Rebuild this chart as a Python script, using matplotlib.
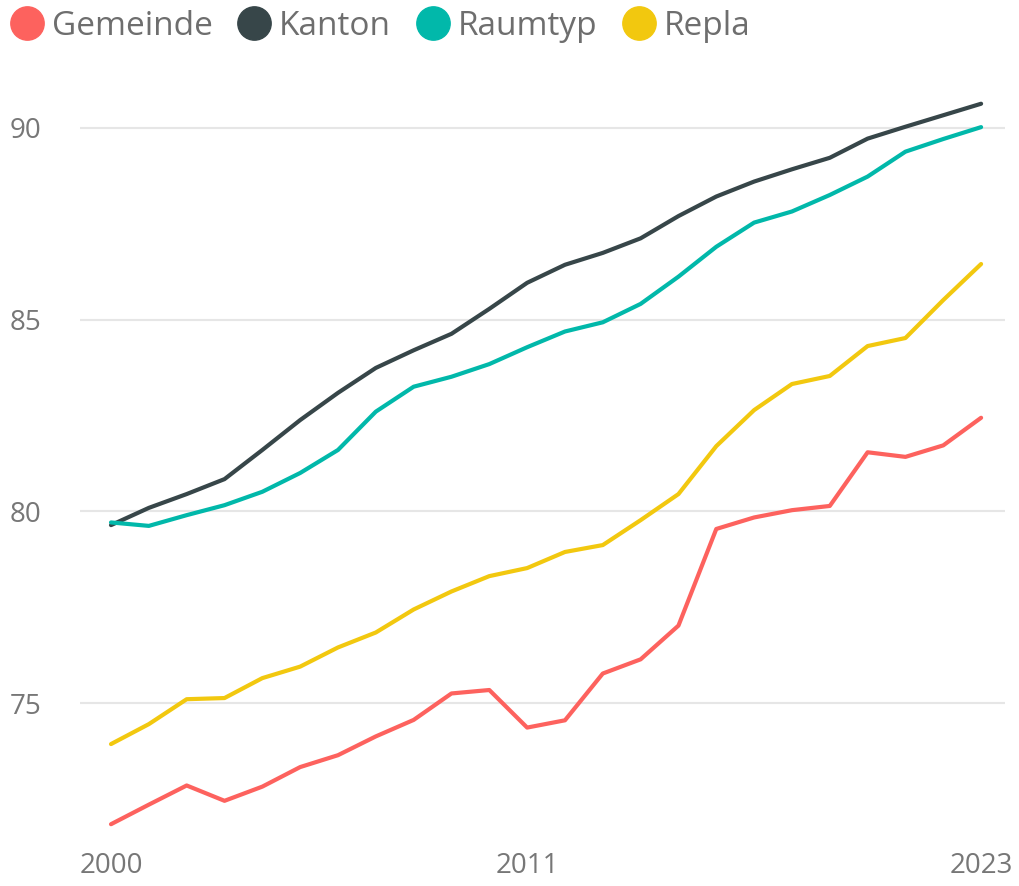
import matplotlib.pyplot as plt
from matplotlib.lines import Line2D
import numpy as np

plt.rcParams['font.family'] = ['Open Sans', 'DejaVu Sans']

jahre = np.arange(2000, 2024)

gemeinde = [71.84, 72.35, 72.85, 72.45, 72.82, 73.33, 73.64, 74.13, 74.56, 75.25,
            75.34, 74.36, 74.55, 75.77, 76.14, 77.02, 79.54, 79.84, 80.03, 80.14,
            81.54, 81.42, 81.72, 82.44]
kanton = [79.64, 80.09, 80.45, 80.84, 81.6, 82.38, 83.09, 83.74, 84.2, 84.63,
          85.28, 85.96, 86.43, 86.74, 87.12, 87.7, 88.21, 88.6, 88.92, 89.22,
          89.72, 90.03, 90.33, 90.63]
raumtyp = [79.71, 79.62, 79.9, 80.16, 80.51, 81.0, 81.6, 82.6, 83.25, 83.51,
           83.84, 84.28, 84.69, 84.93, 85.41, 86.12, 86.9, 87.53, 87.82, 88.25,
           88.73, 89.38, 89.71, 90.02]
repla = [73.93, 74.45, 75.1, 75.13, 75.65, 75.95, 76.45, 76.84, 77.44, 77.91,
         78.31, 78.52, 78.94, 79.12, 79.77, 80.45, 81.7, 82.64, 83.32, 83.53,
         84.31, 84.52, 85.51, 86.45]

namen = ['Gemeinde', 'Kanton', 'Raumtyp', 'Repla']
farben = ['#FD625E', '#374649', '#01B8AA', '#F2C80F']
reihen = [gemeinde, kanton, raumtyp, repla]

fig = plt.figure(figsize=(10.19, 8.86), dpi=100)
ax = fig.add_axes([0.0785, 0.052, 0.9077, 0.8465])

for werte, farbe in zip(reihen, farben):
    ax.plot(jahre, werte, color=farbe, linewidth=3, solid_capstyle='round',
            solid_joinstyle='round')

ax.set_xlim(1999.18, 2023.63)
ax.set_ylim(71.43, 90.99)
ax.set_yticks([75, 80, 85, 90])
ax.set_xticks([2000, 2011, 2023])
ax.grid(axis='y', color='#E6E6E6', linewidth=1.5)
ax.set_axisbelow(True)
for s in ax.spines.values():
    s.set_visible(False)
ax.tick_params(axis='both', length=0, labelsize=20, labelcolor='#777777')
ax.tick_params(axis='y', pad=28)
ax.tick_params(axis='x', pad=9)

handles = [Line2D([], [], linestyle='none', marker='o', markersize=24,
                  markerfacecolor=f, markeredgecolor=f) for f in farben]
leg = fig.legend(handles, namen, loc='upper left', bbox_to_anchor=(0.0, 1.0),
                 ncol=4, frameon=False, fontsize=24, handlelength=1.0,
                 handletextpad=0.25, columnspacing=0.75, borderaxespad=0.2,
                 borderpad=0.1)
for t in leg.get_texts():
    t.set_color('#6E6E6E')

fig.savefig('out.png', dpi=100)
